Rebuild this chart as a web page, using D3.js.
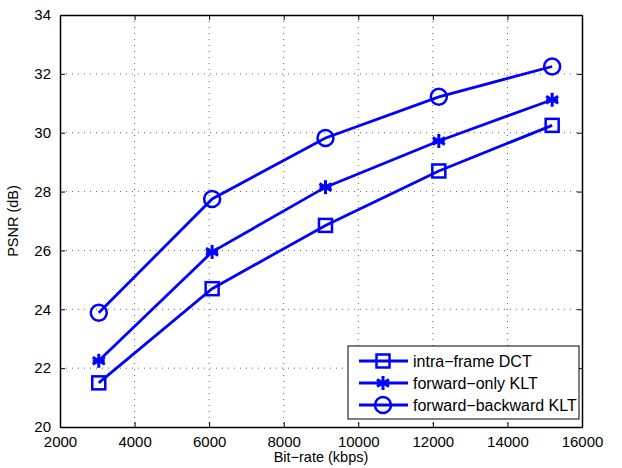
<!DOCTYPE html>
<html>
<head>
<meta charset="utf-8">
<script src="https://cdn.jsdelivr.net/npm/d3@7"></script>
<style>
  body { margin: 0; background: #fff; }
  text { font-family: 'Liberation Sans', Arial, sans-serif; }
</style>
</head>
<body>
<div id="chart"></div>
<script>
const bitrates = [3040, 6080, 9120, 12160, 15200];
const intraDCT = [21.5, 24.7, 26.85, 28.7, 30.25];
const forwardKLT = [22.25, 25.95, 28.15, 29.72, 31.12];
const fwdBwdKLT = [23.88, 27.75, 29.82, 31.22, 32.25];
const seriesNames = ['intra\u2212frame DCT', 'forward\u2212only KLT', 'forward\u2212backward KLT'];
const xTicks = [2000, 4000, 6000, 8000, 10000, 12000, 14000, 16000];
const yTicks = [20, 22, 24, 26, 28, 30, 32, 34];

const W = 622, H = 468;
const margin = { top: 15, right: 40, bottom: 41, left: 60 };
const width = W - margin.left - margin.right;
const height = H - margin.top - margin.bottom;

const svg = d3.select('#chart').append('svg')
  .attr('width', W).attr('height', H)
  .append('g')
  .attr('transform', `translate(${margin.left},${margin.top})`);

const x = d3.scaleLinear().domain([2000, 16000]).range([0, width]);
const y = d3.scaleLinear().domain([20, 34]).range([height, 0]);

// grid
svg.append('g').selectAll('line').data(xTicks.slice(1, -1)).join('line')
  .attr('x1', d => x(d)).attr('x2', d => x(d)).attr('y1', 0).attr('y2', height)
  .attr('stroke', '#666').attr('stroke-width', 1).attr('stroke-dasharray', '1,5');
svg.append('g').selectAll('line').data(yTicks.slice(1, -1)).join('line')
  .attr('y1', d => y(d)).attr('y2', d => y(d)).attr('x1', 0).attr('x2', width)
  .attr('stroke', '#666').attr('stroke-width', 1).attr('stroke-dasharray', '1,5');

// axes (ticks inward, box style)
const fmt = d3.format('d');
svg.append('g').attr('transform', `translate(0,${height})`)
  .call(d3.axisBottom(x).tickValues(xTicks).tickFormat(fmt).tickSizeInner(-5).tickSizeOuter(0).tickPadding(9));
svg.append('g')
  .call(d3.axisLeft(y).tickValues(yTicks).tickFormat(fmt).tickSizeInner(-5).tickSizeOuter(0).tickPadding(9));
svg.append('g')
  .call(d3.axisTop(x).tickValues(xTicks).tickFormat('').tickSizeInner(-5).tickSizeOuter(0));
svg.append('g').attr('transform', `translate(${width},0)`)
  .call(d3.axisRight(y).tickValues(yTicks).tickFormat('').tickSizeInner(-5).tickSizeOuter(0));
svg.selectAll('.domain').attr('stroke', '#000').attr('stroke-width', 1.5);
svg.selectAll('.tick line').attr('stroke', '#000');
svg.selectAll('.tick text').style('font-size', '15px').attr('fill', '#000');

svg.append('text').attr('x', width / 2).attr('y', height + 35)
  .attr('text-anchor', 'middle').style('font-size', '14.5px').text('Bit\u2212rate (kbps)');
svg.append('text').attr('transform', `translate(-42,${height / 2}) rotate(-90)`)
  .attr('text-anchor', 'middle').style('font-size', '14.5px').text('PSNR (dB)');

const blue = '#0000ff';
const series = [intraDCT, forwardKLT, fwdBwdKLT];
const shapes = ['square', 'star', 'circle'];

function drawMarker(g, shape) {
  if (shape === 'square') {
    g.append('rect').attr('x', -6.5).attr('y', -6.5).attr('width', 13).attr('height', 13)
      .attr('fill', 'none').attr('stroke', blue).attr('stroke-width', 2.5);
  } else if (shape === 'circle') {
    g.append('circle').attr('r', 8).attr('fill', 'none').attr('stroke', blue).attr('stroke-width', 2.5);
  } else {
    const r = 7;
    [0, 60, 120].forEach(a => {
      const t = a * Math.PI / 180;
      g.append('line').attr('x1', -r * Math.sin(t)).attr('y1', -r * Math.cos(t))
        .attr('x2', r * Math.sin(t)).attr('y2', r * Math.cos(t))
        .attr('stroke', blue).attr('stroke-width', 3);
    });
    g.append('line').attr('x1', -r * 0.85).attr('x2', r * 0.85).attr('y1', 0).attr('y2', 0)
      .attr('stroke', blue).attr('stroke-width', 3);
  }
}

const line = d3.line().x(d => x(d[0])).y(d => y(d[1]));
series.forEach((vals, i) => {
  const pts = bitrates.map((b, j) => [b, vals[j]]);
  svg.append('path').datum(pts).attr('d', line)
    .attr('fill', 'none').attr('stroke', blue).attr('stroke-width', 2.8);
  pts.forEach(p => {
    drawMarker(svg.append('g').attr('transform', `translate(${x(p[0])},${y(p[1])})`), shapes[i]);
  });
});

// legend
const lg = svg.append('g').attr('transform', `translate(${288},${331})`);
lg.append('rect').attr('width', 231).attr('height', 73)
  .attr('fill', '#fff').attr('stroke', '#000').attr('stroke-width', 1);
seriesNames.forEach((name, i) => {
  const yy = 15 + i * 22;
  lg.append('line').attr('x1', 11).attr('x2', 60).attr('y1', yy).attr('y2', yy)
    .attr('stroke', blue).attr('stroke-width', 2.8);
  drawMarker(lg.append('g').attr('transform', `translate(35,${yy})`), shapes[i]);
  lg.append('text').attr('x', 65).attr('y', yy).attr('dy', '0.35em')
    .style('font-size', '16px').text(name);
});
</script>
</body>
</html>
